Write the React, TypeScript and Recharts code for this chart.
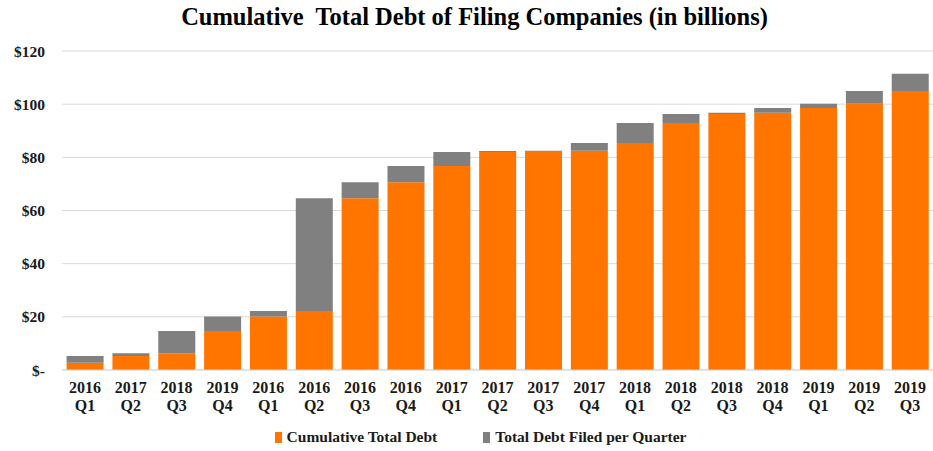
import { Bar, BarChart, CartesianGrid, Legend, XAxis, YAxis } from "recharts";

const years = ["2016", "2017", "2018", "2019", "2016", "2016", "2016", "2016", "2017", "2017", "2017", "2017", "2018", "2018", "2018", "2018", "2019", "2019", "2019"];
const quarters = ["Q1", "Q2", "Q3", "Q4", "Q1", "Q2", "Q3", "Q4", "Q1", "Q2", "Q3", "Q4", "Q1", "Q2", "Q3", "Q4", "Q1", "Q2", "Q3"];
const cumulative = [2.7, 5.3, 6.3, 14.7, 20.1, 22.2, 64.6, 70.6, 76.7, 82.0, 82.4, 82.5, 85.4, 92.9, 96.3, 96.8, 98.6, 100.2, 105.0];
const filed = [2.6, 1.0, 8.4, 5.4, 2.1, 42.4, 6.0, 6.1, 5.3, 0.4, 0.1, 2.9, 7.5, 3.4, 0.5, 1.8, 1.6, 4.8, 6.4];
const yTicks = [0, 20, 40, 60, 80, 100, 120];

const FONT = "'Liberation Serif', 'DejaVu Serif', serif";
const ORANGE = "#FF7500";
const GREY = "#808080";

const rows = years.map((y, i) => ({
  key: `${y}-${quarters[i]}-${i}`,
  year: y,
  quarter: quarters[i],
  cumulative: cumulative[i],
  filed: filed[i],
}));

function QuarterTick({ x, y, index }: any) {
  return (
    <text x={x} y={y} textAnchor="middle" fontFamily={FONT} fontWeight="bold" fontSize={16} fill="#1a1a1a">
      <tspan x={x} dy={15}>{years[index]}</tspan>
      <tspan x={x} dy={18}>{quarters[index]}</tspan>
    </text>
  );
}

function LegendBox() {
  const items = [
    { label: "Cumulative Total Debt", color: ORANGE },
    { label: "Total Debt Filed per Quarter", color: GREY },
  ];
  return (
    <div style={{ display: "flex", justifyContent: "center", gap: 46, paddingTop: 8, paddingLeft: 28, fontFamily: FONT, fontWeight: "bold", fontSize: 15.5, color: "#1a1a1a" }}>
      {items.map((it) => (
        <span key={it.label} style={{ display: "flex", alignItems: "center" }}>
          <span style={{ display: "inline-block", width: 7, height: 11, background: it.color, marginRight: 5 }} />
          {it.label}
        </span>
      ))}
    </div>
  );
}

export default function App() {
  return (
    <div style={{ position: "relative", width: 933, height: 451, background: "#fff" }}>
      <style>{`body{margin:0}`}</style>
      <div style={{ position: "absolute", top: 3, left: 8, width: 933, textAlign: "center", fontFamily: FONT, fontWeight: "bold", fontSize: 24.5, color: "#000", whiteSpace: "pre" }}>
        {"Cumulative  Total Debt of Filing Companies (in billions)"}
      </div>
      <BarChart width={933} height={451} data={rows} margin={{ top: 51, right: 0, left: 0, bottom: 0 }} barCategoryGap="10%">
        <CartesianGrid vertical={false} stroke="#D9D9D9" strokeWidth={1} />
        <XAxis dataKey="key" tick={<QuarterTick />} tickLine={false} axisLine={{ stroke: "#D9D9D9" }} interval={0} height={50} />
        <YAxis
          width={62}
          domain={[0, 120]}
          ticks={yTicks}
          tickLine={false}
          axisLine={false}
          tickSize={0}
          tickMargin={17}
          tickFormatter={(v: number) => (v === 0 ? "$-" : `$${v}`)}
          tick={{ fontFamily: FONT, fontWeight: "bold", fontSize: 15.5, fill: "#1a1a1a" }}
        />
        <Legend verticalAlign="bottom" height={31} content={<LegendBox />} />
        <Bar dataKey="cumulative" stackId="a" fill={ORANGE} isAnimationActive={false} />
        <Bar dataKey="filed" stackId="a" fill={GREY} isAnimationActive={false} />
      </BarChart>
    </div>
  );
}
